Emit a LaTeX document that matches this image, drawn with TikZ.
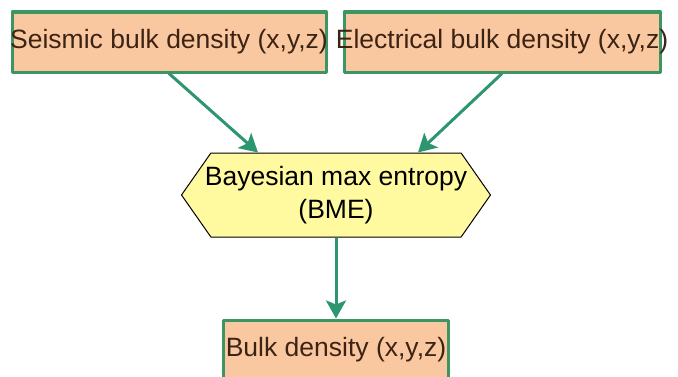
\documentclass[tikz,border=0pt]{standalone}
\usepackage{fontspec}
\setmainfont{Liberation Sans}
\usetikzlibrary{shapes.symbols,arrows.meta}

\definecolor{boxfill}{RGB}{250,200,160}
\definecolor{boxline}{RGB}{60,150,100}
\definecolor{flowgreen}{RGB}{45,150,110}
\definecolor{hexfill}{RGB}{255,250,160}
\definecolor{txtbrown}{RGB}{60,35,20}

\begin{document}
\begin{tikzpicture}[x=1pt, y=1pt, line join=round, font=\fontsize{26.5}{33}\selectfont,
	databox/.style={draw=boxline, fill=boxfill, line width=3pt, minimum height=60pt, inner sep=0pt},
	flow/.style={-{Stealth[length=18pt, width=20pt, inset=4pt]}, flowgreen, line width=3pt},
	method/.style={signal, signal to=east and west, signal pointer angle=110, draw=black, fill=hexfill,
		line width=1pt, minimum height=84pt, align=center, inner xsep=-6pt, inner ysep=0pt}]
	\useasboundingbox (0, 0) rectangle (678, 376);

	% Dữ liệu đầu vào
	\node[databox, minimum width=314pt, label={[txtbrown]center:Seismic bulk density (x,y,z)}] (seismic) at (169, 334) {};
	\node[databox, minimum width=316pt, label={[txtbrown]center:Electrical bulk density (x,y,z)}] (electric) at (502, 334) {};

	% Phương pháp kết hợp
	\node[method] (bme) at (336, 181) {Bayesian max entropy\\(BME)};

	% Kết quả
	\node[databox, minimum width=225pt, label={[txtbrown]center:Bulk density (x,y,z)}] (bulk) at (336, 26) {};

	% Mũi tên
	\draw[flow] (seismic.south) -- ([xshift=-78pt]bme.north);
	\draw[flow] (electric.south) -- ([xshift=82pt]bme.north);
	\draw[flow] (bme.south) -- (bulk.north);
\end{tikzpicture}
\end{document}
